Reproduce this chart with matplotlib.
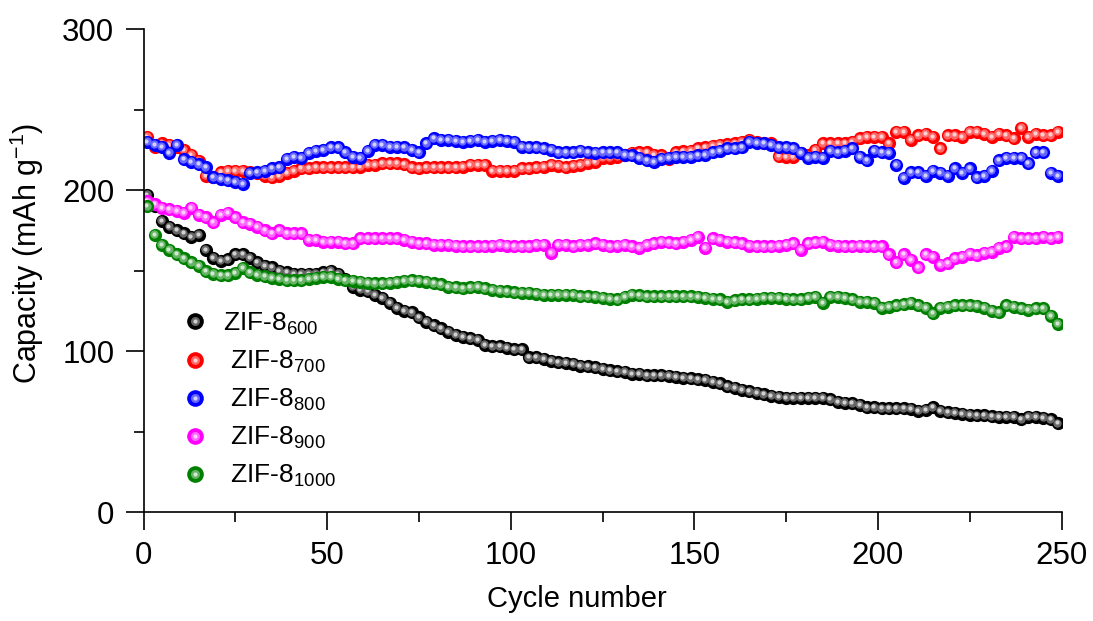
import numpy as np
import matplotlib
matplotlib.use('Agg')
import matplotlib.pyplot as plt
from matplotlib.lines import Line2D
from matplotlib.transforms import offset_copy
from matplotlib.colors import to_rgb

plt.rcParams['font.family'] = ['Liberation Sans', 'DejaVu Sans']
plt.rcParams['mathtext.fontset'] = 'custom'
plt.rcParams['mathtext.rm'] = 'Liberation Sans'
plt.rcParams['mathtext.it'] = 'Liberation Sans:italic'
plt.rcParams['mathtext.default'] = 'regular'

# cycle numbers (every second cycle is plotted)
cycles = np.arange(1, 250, 2)

zif600 = [197, 190, 181, 177, 175, 173, 171, 172, 163, 158,
          156, 157, 160, 160, 158, 155, 153, 152, 150, 149,
          148, 148, 148, 148, 149, 150, 148, 145, 140, 138,
          137, 135, 133, 130, 127, 125, 124, 121, 118, 116,
          114, 112, 110, 109, 108, 107, 104, 103, 103, 102,
          101, 101, 96, 96, 95, 94, 93, 92.5, 92, 91,
          90.5, 90, 89, 88, 87.5, 87, 86, 86, 85, 85,
          85, 84.5, 84, 83.5, 83, 82.5, 82, 81, 80, 78,
          77, 76, 75, 74, 73, 72, 71.5, 71, 71, 71,
          71, 71, 71, 70, 68.5, 68, 67.5, 66.5, 65, 65,
          64.5, 64.5, 64.5, 64.5, 64, 63, 63.5, 65, 63, 62,
          61.5, 61, 60.5, 60, 60, 59.5, 59, 59, 59, 57.5,
          59, 59, 58.5, 57.5, 55]

zif700 = [233, 227, 229, 228, 227, 225, 222, 218, 209, 208,
          211, 212, 212, 212, 211, 210.5, 209, 208, 209, 210.5,
          212, 213.5, 213.5, 214, 214, 214, 214, 214, 214, 214.5,
          215.5, 215.5, 216.5, 216.5, 216.5, 216, 214, 213.5, 214, 214,
          214, 214, 214, 214.5, 215.5, 215.5, 215.5, 212, 212, 212,
          212, 213.5, 213.5, 214, 214.5, 215.5, 215, 214, 215, 215.5,
          217, 217.5, 220, 220, 220.5, 222, 223, 223.5, 223.5, 222,
          221.5, 219, 223.5, 224, 224.5, 226, 226.5, 227.5, 228, 228.5,
          229, 230, 231, 230, 229, 229, 221, 220.5, 220.5, 223,
          221.5, 225, 229, 229, 229, 229, 230, 232, 233, 233,
          233, 229, 236, 236, 231, 234, 235, 233, 226, 234,
          234, 233, 236, 236, 235, 233, 235, 234, 232, 238.5,
          233, 235, 234, 234, 236]

zif800 = [230, 228, 227, 223, 228, 219, 217.5, 216, 214, 208,
          207, 206, 205, 204, 210.5, 211, 212, 213.5, 214, 219.5,
          220.5, 220, 223, 224.5, 225, 226.5, 226.5, 223.5, 220.5, 220,
          224.5, 228, 228, 227, 227, 226.5, 225, 223.5, 229, 232,
          231, 231, 230.5, 230, 230.5, 231, 230, 230.5, 231, 230.5,
          230, 227, 226.5, 226.5, 226, 225, 223.5, 223.5, 223.5, 224.5,
          223.5, 223, 223.5, 223.5, 223.5, 222, 221.5, 220, 218.5, 217.5,
          219.5, 220, 220.5, 220.5, 220.5, 221.5, 222, 223.5, 224.5, 226,
          226, 226.5, 230, 229.5, 229, 228, 226.5, 226.5, 226, 223,
          220, 220.5, 220, 224.5, 223.5, 224.5, 226, 220.5, 218.5, 224.5,
          223.5, 223, 215.5, 207.5, 211, 211, 209, 212, 210.5, 209,
          213.5, 210.5, 213.5, 208, 209, 212, 218.5, 220, 220, 220,
          216.5, 223.5, 223.5, 210.5, 209]

zif900 = [193, 191, 189, 188, 187, 186, 189, 184.5, 183, 180,
          184.5, 186, 183, 180, 179, 177, 175, 173, 175, 173,
          173, 173, 169, 169, 168, 168, 168, 167, 167, 170,
          170, 170, 170, 170, 170, 169, 168, 167, 167, 166,
          166, 166, 165.5, 165, 165, 165, 165, 165.5, 166, 165.5,
          165, 165, 165, 166, 166, 161, 166, 166, 165, 166,
          166, 167, 166, 165, 165.5, 166, 165, 164, 166, 167,
          168, 167.5, 167, 168, 169, 171, 164, 170, 169, 168,
          167.5, 167, 165.5, 165, 165, 165, 165.5, 166, 167, 163,
          167, 167.5, 168, 166, 165.5, 165, 165, 165.5, 165, 165,
          165, 160, 155, 160, 156.5, 152, 160, 158.5, 153.5, 154.5,
          157.5, 158.5, 160.5, 159.5, 161, 161.5, 164, 165, 171, 170,
          170, 170, 171, 170, 171]

zif1000 = [190, 172, 166, 163, 160, 157.5, 155, 153, 149.5, 148,
           147, 147, 148.5, 151.5, 149, 147.5, 146.5, 145.5, 145, 144,
           144, 144, 145, 145.5, 146, 146, 145, 144, 143.5, 143,
           142.5, 142, 142, 142.5, 143, 143.5, 144, 143.5, 143, 142,
           141.5, 140, 139.5, 139, 139.5, 140, 139, 138, 137.5, 137,
           136.5, 136, 136, 135.5, 135, 135, 135, 135, 135, 134,
           134, 133.5, 133, 132.5, 132, 133.5, 135, 134.5, 134, 134,
           134, 134, 134, 134, 134, 133.5, 133, 132.5, 132, 130.5,
           131.5, 132, 132, 132.5, 133, 133, 133, 132.5, 132, 132,
           133, 133.5, 130, 133.5, 133.5, 133, 132, 130.5, 130.5, 130,
           127, 127.5, 128.5, 129, 130, 128.5, 127, 123.5, 127, 127.5,
           128.5, 128.5, 128.5, 128, 127, 125, 124, 128.5, 127.5, 126.5,
           125.5, 126.5, 126.5, 122, 117]

series = [zif600, zif700, zif800, zif900, zif1000]
colors = ['#000000', '#ff0000', '#0000ff', '#ff00ff', '#008000']
labels = ['ZIF-8$_{600}$', ' ZIF-8$_{700}$', ' ZIF-8$_{800}$',
          ' ZIF-8$_{900}$', ' ZIF-8$_{1000}$']


def tint(c, f):
    r = np.array(to_rgb(c))
    return tuple(r + (1 - r) * f)


fig = plt.figure(figsize=(10.93, 6.21), dpi=100)
ax = fig.add_axes([0.1313, 0.1755, 0.8399, 0.7778])

shift1 = offset_copy(ax.transData, fig=fig, x=-0.6, y=0.6, units='dots')
shift2 = offset_copy(ax.transData, fig=fig, x=-1.0, y=1.0, units='dots')

handles = []
for y, c in zip(series, colors):
    # shaded balls: base colour, lighter core, bright highlight
    ax.plot(cycles, y, 'o', ms=9.5, color=c, mec='none')
    ax.plot(cycles, y, 'o', ms=6.0, color=tint(c, 0.4), mec='none',
            transform=shift1)
    ax.plot(cycles, y, 'o', ms=3.0, color=tint(c, 0.82), mec='none',
            transform=shift2)
    handles.append((Line2D([], [], ls='none', marker='o', ms=12, color=c, mec='none'),
                    Line2D([], [], ls='none', marker='o', ms=6.5, color=tint(c, 0.4), mec='none'),
                    Line2D([], [], ls='none', marker='o', ms=3.0, color=tint(c, 0.82), mec='none')))

ax.set_xlim(0, 250)
ax.set_ylim(0, 300)
ax.set_xticks([0, 50, 100, 150, 200, 250])
ax.set_xticks(np.arange(25, 250, 50), minor=True)
ax.set_yticks([0, 100, 200, 300])
ax.set_yticks([50, 150, 250], minor=True)

for s in ['top', 'right']:
    ax.spines[s].set_visible(False)
for s in ['left', 'bottom']:
    ax.spines[s].set_linewidth(1.2)

ax.tick_params(which='major', direction='out', length=13, width=1.2,
               labelsize=22.5, pad=8)
ax.tick_params(which='minor', direction='out', length=7, width=1.2)

ax.set_xlabel('Cycle number', fontsize=21)
ax.set_ylabel('Capacity (mAh g$^{\u2212 1}$)', fontsize=22)
ax.xaxis.set_label_coords(0.472, -0.152)
ax.yaxis.set_label_coords(-0.106, 0.535)

ax.legend(handles, labels, loc='upper left', bbox_to_anchor=(0.016, 0.466),
          frameon=False, fontsize=19, handlelength=1.0, handletextpad=0.55,
          labelspacing=0.45)

fig.savefig('out.png', dpi=100)
